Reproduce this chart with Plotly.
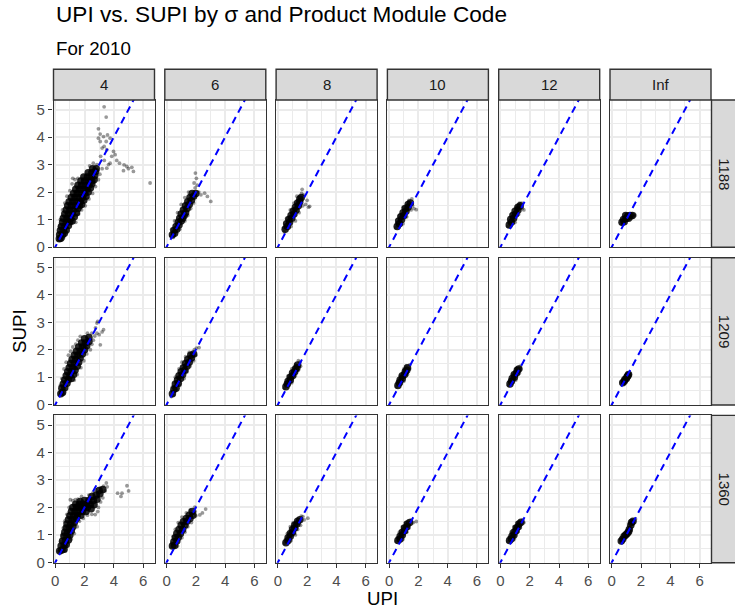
import plotly.graph_objects as go

# ---------------- data ----------------
sigmas = ["4", "6", "8", "10", "12", "Inf"]
codes = ["1188", "1209", "1360"]
x_ticks = [0, 2, 4, 6]
y_ticks = [0, 1, 2, 3, 4, 5]
ref_intercept = 0.0
ref_slope = 1.0

# dense cores (UPI, SUPI) and sparse points, per product module / sigma
core_1188_s4 = [(0.28,0.3),(0.38,0.32),(0.3,0.45),(0.5,0.45),(0.62,0.5),(0.35,0.6),(0.55,0.6),(0.75,0.62),
    (0.42,0.75),(0.65,0.75),(0.9,0.78),(0.5,0.9),(0.75,0.9),(1.0,0.92),(1.15,0.95),(0.55,1.05),(0.8,1.05),
    (1.05,1.05),(1.3,1.1),(0.65,1.2),(0.9,1.2),(1.15,1.2),(1.45,1.25),(0.75,1.35),(1.0,1.35),(1.25,1.35),
    (1.55,1.4),(0.85,1.5),(1.1,1.5),(1.35,1.5),(1.65,1.5),(1.8,1.55),(0.95,1.65),(1.2,1.65),(1.45,1.65),
    (1.7,1.65),(1.95,1.7),(1.1,1.8),(1.35,1.8),(1.6,1.8),(1.85,1.8),(2.1,1.85),(1.25,1.95),(1.5,1.95),
    (1.75,1.95),(2.0,1.95),(2.25,2.0),(1.4,2.1),(1.65,2.1),(1.9,2.1),(2.15,2.1),(2.4,2.15),(1.55,2.25),
    (1.8,2.25),(2.05,2.25),(2.3,2.25),(2.5,2.3),(1.75,2.4),(2.0,2.4),(2.25,2.4),(2.5,2.4),(2.65,2.45),
    (1.95,2.55),(2.2,2.55),(2.45,2.55),(2.7,2.6),(2.25,2.7),(2.5,2.7),(2.75,2.75),(2.55,2.85),(2.8,2.85)]
halo_1188_s4 = [(0.2,0.25),(0.55,0.32),(0.3,0.75),(0.35,1.0),(0.5,1.35),(0.65,1.6),(0.8,1.85),(1.0,2.05),
    (1.15,2.3),(1.35,2.45),(1.55,2.5),(1.2,2.5),(1.4,0.9),(1.6,1.2),(1.8,1.35),(2.05,1.5),(2.3,1.75),
    (2.55,1.95),(2.75,2.2),(2.95,2.45),(3.05,2.65),(3.2,2.85),(3.52,2.87),(3.64,3.0),(3.75,3.05),(3.35,3.15),
    (2.85,3.0),(2.6,3.05),(2.35,2.95),(3.1,3.3),(3.86,3.3),(4.09,3.36),(3.98,3.48),(3.52,3.54),(3.2,3.6),
    (3.34,3.66),(3.07,3.84),(3.48,3.84),(2.95,3.96),(3.75,3.96),(3.3,4.02),(3.57,4.08),(3.07,4.11),
    (2.95,4.3),(3.48,4.73),(3.34,5.1),(4.39,3.05),(4.7,2.99),(4.89,2.93),(5.0,2.85),(5.23,2.9),(5.34,2.75),
    (4.66,2.78),(6.48,2.33),(4.2,3.15)]

core_1188_s6 = [(0.4,0.45),(0.55,0.5),(0.5,0.6),(0.7,0.65),(0.65,0.75),(0.85,0.8),(0.8,0.9),(1.0,0.95),
    (0.9,1.05),(1.1,1.05),(1.2,1.15),(1.0,1.2),(1.3,1.25),(1.15,1.35),(1.4,1.4),(1.3,1.5),(1.55,1.55),
    (1.45,1.65),(1.7,1.7),(1.6,1.8),(1.85,1.85),(1.75,1.95),(2.0,1.95)]
halo_1188_s6 = [(0.3,0.4),(0.45,0.35),(0.35,0.65),(0.9,0.65),(0.55,0.95),(1.25,0.95),(0.75,1.25),(1.45,1.15),
    (1.0,1.55),(1.65,1.4),(1.25,1.8),(1.85,1.6),(1.5,2.0),(1.88,2.33),(2.04,2.5),(1.97,2.69),(1.95,2.15),
    (2.2,2.0),(2.35,1.9),(2.6,1.96),(2.79,1.84),(3.02,1.66),(2.1,2.25)]

core_1188_s8 = [(0.5,0.65),(0.65,0.75),(0.6,0.85),(0.8,0.9),(0.75,1.0),(0.95,1.05),(0.9,1.15),(1.1,1.2),
    (1.05,1.3),(1.25,1.35),(1.2,1.45),(1.4,1.5),(1.35,1.6),(1.5,1.65),(1.5,1.75),(1.6,1.8)]
halo_1188_s8 = [(0.45,0.55),(0.4,0.7),(0.9,0.75),(0.6,1.05),(1.2,0.95),(0.85,1.35),(1.45,1.25),(1.1,1.6),
    (1.7,1.5),(1.9,1.55),(2.1,1.45),(2.17,1.48),(1.3,1.85),(1.62,1.95),(1.66,2.1),(1.75,1.9),(2.0,1.7)]

core_1188_s10 = [(0.55,0.75),(0.7,0.85),(0.65,0.95),(0.85,1.0),(0.8,1.1),(1.0,1.15),(0.95,1.25),(1.15,1.3),
    (1.1,1.4),(1.3,1.45),(1.3,1.55),(1.45,1.6)]
halo_1188_s10 = [(0.45,0.7),(0.5,0.85),(0.95,0.85),(0.7,1.15),(1.2,1.1),(0.95,1.45),(1.5,1.35),(1.7,1.4),
    (1.85,1.36),(1.55,1.75),(1.35,1.7),(1.6,1.5)]

core_1188_s12 = [(0.6,0.8),(0.75,0.9),(0.7,1.0),(0.9,1.05),(0.85,1.15),(1.05,1.2),(1.0,1.3),(1.2,1.35),
    (1.2,1.45),(1.35,1.5)]
halo_1188_s12 = [(0.5,0.75),(0.55,0.9),(1.0,0.9),(0.75,1.2),(1.25,1.2),(1.05,1.45),(1.5,1.4),(1.6,1.35),
    (1.45,1.6),(1.3,1.6)]

core_1188_sInf = [(0.7,0.9),(0.85,0.92),(0.8,1.0),(1.0,1.05),(1.1,1.12),(1.25,1.15),(1.4,1.15),(0.95,1.15),
    (1.15,1.05)]
halo_1188_sInf = [(0.65,0.85),(0.75,0.82),(1.55,1.2),(1.6,1.15),(1.0,1.2),(0.9,0.95),(1.35,1.05),(1.5,1.1)]

core_1209_s4 = [(0.38,0.4),(0.5,0.45),(0.45,0.6),(0.65,0.62),(0.55,0.75),(0.8,0.78),(0.65,0.9),(0.9,0.92),
    (1.1,0.95),(0.75,1.05),(1.0,1.05),(1.25,1.1),(0.85,1.2),(1.1,1.2),(1.35,1.25),(0.95,1.35),(1.2,1.35),
    (1.5,1.4),(1.05,1.5),(1.3,1.5),(1.6,1.55),(1.15,1.65),(1.4,1.65),(1.7,1.7),(1.3,1.8),(1.55,1.8),
    (1.85,1.85),(1.45,1.95),(1.7,1.95),(2.0,2.0),(1.6,2.1),(1.85,2.1),(2.15,2.15),(1.8,2.25),(2.05,2.25),
    (2.3,2.3),(2.0,2.4),(2.3,2.45)]
halo_1209_s4 = [(0.3,0.35),(0.6,0.4),(0.35,0.7),(0.45,0.95),(0.6,1.3),(0.75,1.55),(0.9,1.8),(1.05,1.95),
    (1.2,2.1),(1.4,2.2),(1.71,2.49),(1.55,2.35),(1.3,0.9),(1.5,1.1),(1.75,1.35),(1.95,1.6),(2.15,1.85),
    (2.4,2.0),(2.5,2.2),(2.6,2.35),(2.5,2.6),(2.7,2.5),(2.85,2.6),(3.08,2.18),(3.0,2.55),(3.2,2.65),
    (3.3,2.73),(2.85,2.97),(2.9,3.03),(2.75,2.8),(2.2,2.6)]

core_1209_s6 = [(0.4,0.4),(0.5,0.55),(0.65,0.6),(0.6,0.75),(0.8,0.78),(0.75,0.9),(0.95,0.95),(0.85,1.05),
    (1.1,1.1),(1.0,1.2),(1.25,1.25),(1.15,1.35),(1.4,1.4),(1.3,1.5),(1.55,1.55),(1.45,1.65),(1.7,1.7),
    (1.65,1.8),(1.85,1.85)]
halo_1209_s6 = [(0.33,0.3),(0.45,0.35),(0.4,0.65),(0.9,0.7),(0.6,1.0),(1.2,0.95),(0.85,1.3),(1.4,1.2),
    (1.05,1.55),(1.6,1.4),(1.3,1.75),(1.85,1.6),(1.55,1.9),(1.9,2.0),(2.04,2.06),(2.22,2.08),(2.0,1.8)]

core_1209_s8 = [(0.55,0.65),(0.65,0.75),(0.7,0.85),(0.85,0.9),(0.85,1.0),(1.0,1.05),(1.0,1.15),(1.15,1.2),
    (1.2,1.3),(1.3,1.35),(1.35,1.45)]
halo_1209_s8 = [(0.45,0.6),(0.5,0.75),(0.95,0.8),(0.7,1.05),(1.2,1.05),(0.95,1.3),(1.4,1.25),(1.55,1.4),
    (1.5,1.55),(1.2,1.45),(1.4,1.6)]

core_1209_s10 = [(0.6,0.7),(0.7,0.8),(0.75,0.9),(0.9,0.95),(0.9,1.05),(1.05,1.1),(1.1,1.2),(1.2,1.25),
    (1.25,1.35)]
halo_1209_s10 = [(0.5,0.65),(0.55,0.8),(1.0,0.85),(0.75,1.05),(1.25,1.1),(1.0,1.3),(1.4,1.3),(1.4,1.45),
    (1.15,1.4)]

core_1209_s12 = [(0.65,0.75),(0.75,0.85),(0.8,0.95),(0.95,1.0),(0.95,1.1),(1.1,1.15),(1.15,1.25),(1.25,1.3)]
halo_1209_s12 = [(0.55,0.7),(0.6,0.85),(1.05,0.9),(0.8,1.1),(1.3,1.15),(1.05,1.3),(1.35,1.4),(1.4,1.3)]

core_1209_sInf = [(0.75,0.8),(0.85,0.85),(0.9,0.92),(1.0,0.95),(1.05,1.02),(1.1,1.05),(1.15,1.1)]
halo_1209_sInf = [(0.7,0.75),(0.8,0.9),(0.95,0.85),(1.2,1.15),(1.25,1.1),(1.0,1.05)]

core_1360_s4 = [(0.3,0.42),(0.45,0.45),(0.6,0.48),(0.4,0.6),(0.6,0.62),(0.75,0.65),(0.5,0.78),(0.7,0.8),
    (0.9,0.82),(0.6,0.95),(0.8,0.95),(1.0,1.0),(0.65,1.1),(0.85,1.1),(1.1,1.15),(0.75,1.25),(0.95,1.25),
    (1.2,1.3),(0.8,1.4),(1.05,1.4),(1.3,1.45),(0.9,1.55),(1.15,1.55),(1.45,1.6),(1.0,1.7),(1.25,1.7),
    (1.5,1.7),(1.75,1.72),(1.1,1.85),(1.35,1.85),(1.6,1.85),(1.85,1.85),(2.1,1.85),(1.2,2.0),(1.45,2.0),
    (1.7,2.0),(1.95,2.0),(2.2,2.0),(2.45,1.95),(1.4,2.12),(1.65,2.12),(1.9,2.12),(2.15,2.12),(2.4,2.1),
    (2.65,2.1),(1.7,2.22),(2.0,2.25),(2.3,2.25),(2.6,2.25),(2.85,2.3),(2.5,2.4),(2.8,2.45),(3.05,2.5),
    (3.0,2.62),(3.25,2.65)]
halo_1360_s4 = [(0.23,0.4),(0.7,0.42),(0.35,0.75),(0.45,1.0),(0.55,1.25),(0.65,1.5),(0.8,1.75),(0.95,2.0),
    (1.03,2.28),(1.2,2.25),(1.37,2.28),(1.55,2.3),(1.1,0.85),(1.3,1.05),(1.5,1.3),(1.65,1.5),(1.9,1.6),
    (2.2,1.72),(2.5,1.75),(2.73,1.74),(2.9,1.85),(2.95,2.0),(3.1,2.2),(3.25,2.35),(2.3,2.45),(2.6,2.55),
    (2.75,2.65),(3.08,2.7),(3.3,2.78),(3.49,2.89),(3.4,2.6),(3.55,2.75),(4.26,2.52),(4.56,2.52),(4.49,2.4),
    (4.9,2.79),(5.01,2.6),(1.8,2.4)]

core_1360_s6 = [(0.4,0.6),(0.55,0.62),(0.5,0.75),(0.7,0.78),(0.6,0.9),(0.8,0.92),(0.7,1.05),(0.95,1.05),
    (0.85,1.2),(1.1,1.2),(1.0,1.35),(1.25,1.35),(1.15,1.48),(1.4,1.5),(1.35,1.6),(1.6,1.6),(1.55,1.72),
    (1.8,1.72),(1.75,1.85)]
halo_1360_s6 = [(0.33,0.58),(0.35,0.7),(0.75,0.6),(0.45,0.95),(1.05,0.9),(0.6,1.2),(1.25,1.1),(0.8,1.45),
    (1.45,1.3),(1.05,1.65),(1.7,1.45),(1.35,1.8),(1.93,2.01),(1.6,1.9),(2.0,1.7),(2.27,1.73),(2.45,1.8),
    (2.67,1.94),(1.95,1.85)]

core_1360_s8 = [(0.55,0.72),(0.7,0.8),(0.7,0.9),(0.85,0.95),(0.85,1.05),(1.0,1.1),(1.0,1.2),(1.15,1.25),
    (1.15,1.35),(1.3,1.4),(1.35,1.5),(1.5,1.55)]
halo_1360_s8 = [(0.46,0.7),(0.5,0.82),(0.9,0.8),(0.65,1.05),(1.2,1.0),(0.85,1.3),(1.35,1.2),(1.05,1.45),
    (1.55,1.35),(1.71,1.67),(1.8,1.55),(2.05,1.61),(1.6,1.68)]

core_1360_s10 = [(0.6,0.8),(0.75,0.85),(0.75,0.95),(0.9,1.0),(0.9,1.1),(1.05,1.15),(1.05,1.25),(1.2,1.3),
    (1.25,1.4),(1.4,1.45)]
halo_1360_s10 = [(0.48,0.76),(0.55,0.9),(0.95,0.85),(0.7,1.1),(1.2,1.1),(0.9,1.3),(1.35,1.25),(1.5,1.55),
    (1.65,1.45),(1.85,1.49),(1.1,1.45)]

core_1360_s12 = [(0.62,0.8),(0.75,0.86),(0.78,0.95),(0.92,1.0),(0.92,1.1),(1.06,1.15),(1.08,1.25),(1.2,1.3),
    (1.27,1.4),(1.4,1.46)]
halo_1360_s12 = [(0.5,0.76),(0.56,0.9),(0.96,0.86),(0.72,1.1),(1.2,1.12),(0.92,1.3),(1.36,1.26),(1.52,1.55),
    (1.6,1.45),(1.12,1.45)]

core_1360_sInf = [(0.65,0.78),(0.75,0.85),(0.85,0.95),(0.95,1.0),(1.05,1.05),(1.15,1.12),(1.2,1.2),
    (1.3,1.35),(1.35,1.45),(1.45,1.5)]
halo_1360_sInf = [(0.62,0.75),(0.9,0.9),(1.1,1.0),(1.25,1.15),(1.5,1.55),(1.62,1.58),(1.4,1.4)]

panels = {
    ("1188", "4"): (core_1188_s4, halo_1188_s4), ("1188", "6"): (core_1188_s6, halo_1188_s6),
    ("1188", "8"): (core_1188_s8, halo_1188_s8), ("1188", "10"): (core_1188_s10, halo_1188_s10),
    ("1188", "12"): (core_1188_s12, halo_1188_s12), ("1188", "Inf"): (core_1188_sInf, halo_1188_sInf),
    ("1209", "4"): (core_1209_s4, halo_1209_s4), ("1209", "6"): (core_1209_s6, halo_1209_s6),
    ("1209", "8"): (core_1209_s8, halo_1209_s8), ("1209", "10"): (core_1209_s10, halo_1209_s10),
    ("1209", "12"): (core_1209_s12, halo_1209_s12), ("1209", "Inf"): (core_1209_sInf, halo_1209_sInf),
    ("1360", "4"): (core_1360_s4, halo_1360_s4), ("1360", "6"): (core_1360_s6, halo_1360_s6),
    ("1360", "8"): (core_1360_s8, halo_1360_s8), ("1360", "10"): (core_1360_s10, halo_1360_s10),
    ("1360", "12"): (core_1360_s12, halo_1360_s12), ("1360", "Inf"): (core_1360_sInf, halo_1360_sInf),
}

# ---------------- layout geometry (pixels) ----------------
W, H = 735, 613
FONT = "Liberation Sans, Arial, Helvetica, sans-serif"
col_left0, col_step, col_w = 53.5, 111.3, 101.0
row_top0, row_step, row_h = 100.0, 157.7, 147.3
strip_top = 69.3
strip_right_x0 = 711.5
x_range = [-0.12, 6.78]
y_range = [-0.01, 5.35]

def px(x):
    return x / W

def py(y):
    return 1 - y / H

fig = go.Figure()
layout = dict(
    width=W, height=H, autosize=False,
    margin=dict(l=0, r=0, t=0, b=0, pad=0, autoexpand=False),
    paper_bgcolor="white", plot_bgcolor="white", showlegend=False,
    font=dict(family=FONT, color="#1A1A1A"),
)
shapes, annotations = [], []

for r, code in enumerate(codes):
    for c, sig in enumerate(sigmas):
        k = r * 6 + c + 1
        xa = "x" if k == 1 else f"x{k}"
        ya = "y" if k == 1 else f"y{k}"
        x0 = col_left0 + c * col_step
        y0 = row_top0 + r * row_step
        core, halo = panels[(code, sig)]
        fig.add_trace(go.Scatter(
            x=[p[0] for p in halo], y=[p[1] for p in halo], mode="markers",
            marker=dict(color="black", size=3.8, opacity=0.4, line=dict(width=0)),
            xaxis=xa, yaxis=ya, hoverinfo="skip"))
        fig.add_trace(go.Scatter(
            x=[p[0] for p in core], y=[p[1] for p in core], mode="markers",
            marker=dict(color="black", size=7.5, opacity=0.85, line=dict(width=0)),
            xaxis=xa, yaxis=ya, hoverinfo="skip"))
        lx = [x_range[0], x_range[1]]
        fig.add_trace(go.Scatter(
            x=lx, y=[ref_intercept + ref_slope * v for v in lx], mode="lines",
            line=dict(color="#0000FF", width=2.0, dash="7px,5px"),
            xaxis=xa, yaxis=ya, hoverinfo="skip"))
        axcommon = dict(showline=True, mirror=True, linecolor="#333333", linewidth=1.4,
                        showgrid=True, gridcolor="#EBEBEB", gridwidth=1.8, zeroline=False,
                        automargin=False,
                        tickfont=dict(family=FONT, size=15, color="#4D4D4D"),
                        ticklen=4.5, tickwidth=1.3, tickcolor="#333333")
        layout["xaxis" if k == 1 else f"xaxis{k}"] = dict(
            axcommon, domain=[px(x0), px(x0 + col_w)], anchor=ya, range=x_range,
            tickmode="array", tickvals=x_ticks, ticktext=[str(v) for v in x_ticks],
            ticks="outside" if r == 2 else "", showticklabels=(r == 2),
            minor=dict(tickmode="linear", tick0=1, dtick=2, showgrid=True, gridcolor="#EBEBEB", gridwidth=1.0, ticks=""))
        layout["yaxis" if k == 1 else f"yaxis{k}"] = dict(
            axcommon, domain=[py(y0 + row_h), py(y0)], anchor=xa, range=y_range,
            tickmode="array", tickvals=y_ticks, ticktext=[str(v) for v in y_ticks],
            ticks="outside" if c == 0 else "", showticklabels=(c == 0),
            minor=dict(tickmode="linear", tick0=0.5, dtick=1, showgrid=True, gridcolor="#EBEBEB", gridwidth=1.0, ticks=""))

# column strips
for c, sig in enumerate(sigmas):
    x0 = col_left0 + c * col_step
    shapes.append(dict(type="rect", xref="paper", yref="paper", x0=px(x0), x1=px(x0 + col_w),
                       y0=py(row_top0), y1=py(strip_top), fillcolor="#D9D9D9",
                       line=dict(color="#333333", width=1.4), layer="above"))
    annotations.append(dict(text=sig, xref="paper", yref="paper", x=px(x0 + col_w / 2),
                            y=py((strip_top + row_top0) / 2), showarrow=False, xanchor="center",
                            yanchor="middle", font=dict(family=FONT, size=15, color="#1A1A1A")))
# row strips
for r, code in enumerate(codes):
    y0 = row_top0 + r * row_step
    shapes.append(dict(type="rect", xref="paper", yref="paper", x0=px(strip_right_x0), x1=px(W + 8),
                       y0=py(y0 + row_h), y1=py(y0), fillcolor="#D9D9D9",
                       line=dict(color="#333333", width=1.4), layer="above"))
    annotations.append(dict(text=code, xref="paper", yref="paper", x=px(724.5),
                            y=py(y0 + row_h / 2), showarrow=False, xanchor="center", yanchor="middle",
                            textangle=90, font=dict(family=FONT, size=15, color="#1A1A1A")))

# titles
annotations.append(dict(text="UPI vs. SUPI by σ and Product Module Code", xref="paper", yref="paper",
                        x=px(53.5), y=py(14.5), xanchor="left", yanchor="middle", showarrow=False,
                        font=dict(family=FONT, size=22.6, color="black")))
annotations.append(dict(text="For 2010", xref="paper", yref="paper",
                        x=px(53.5), y=py(48.5), xanchor="left", yanchor="middle", showarrow=False,
                        font=dict(family=FONT, size=18.7, color="black")))
annotations.append(dict(text="UPI", xref="paper", yref="paper",
                        x=px(382), y=py(598), xanchor="center", yanchor="middle", showarrow=False,
                        font=dict(family=FONT, size=18.7, color="black")))
annotations.append(dict(text="SUPI", xref="paper", yref="paper",
                        x=px(19), y=py(331), xanchor="center", yanchor="middle", showarrow=False,
                        textangle=-90, font=dict(family=FONT, size=18.7, color="black")))

layout["shapes"] = shapes
layout["annotations"] = annotations
fig.update_layout(**layout)
fig.write_html("out.html")
